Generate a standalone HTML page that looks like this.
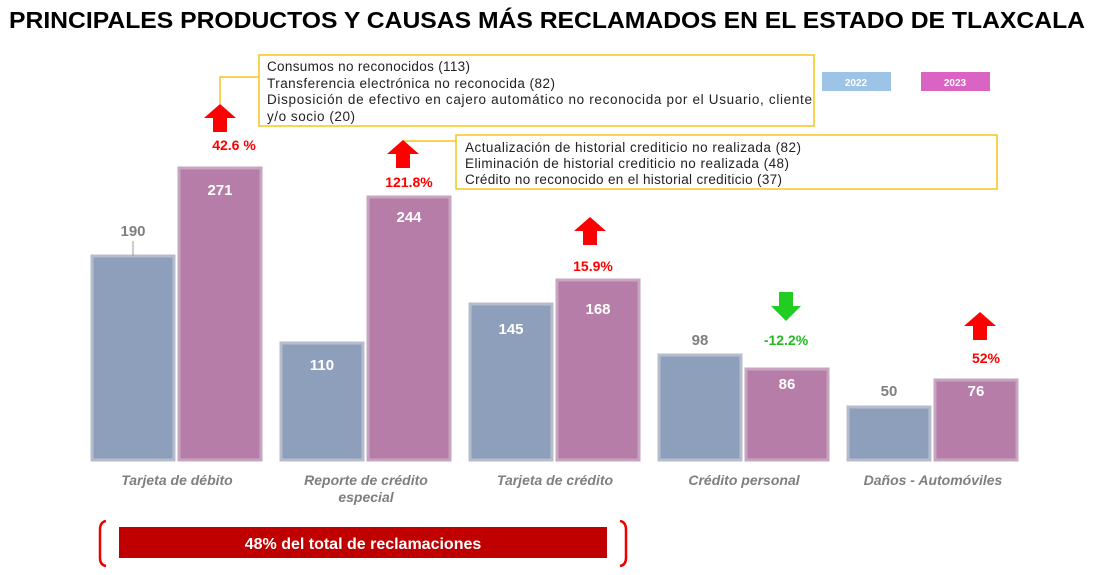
<!DOCTYPE html>
<html><head><meta charset="utf-8"><style>
body{margin:0;background:#fff;width:1093px;height:575px;overflow:hidden}
svg{display:block}
text{font-family:"Liberation Sans",sans-serif}
</style></head><body>
<svg width="1093" height="575" viewBox="0 0 1093 575">
<defs>
<g id="up"><polygon points="-16,12 0,-2 16,12 7,12 7,26 -7,26 -7,12" fill="#ff0000"/></g>
</defs>
<text x="9" y="28" font-size="23" font-weight="bold" fill="#000" textLength="1076" lengthAdjust="spacingAndGlyphs">PRINCIPALES PRODUCTOS Y CAUSAS MÁS RECLAMADOS EN EL ESTADO DE TLAXCALA</text>

<!-- callout 1 -->
<polyline points="259,77 220,77 220,104" fill="none" stroke="#f5c518" stroke-width="1.5"/>
<rect x="259" y="55" width="555" height="71" fill="#fff" stroke="#f5c518" stroke-width="1.5"/>
<g font-size="13.5" fill="#222">
<text x="267" y="71" textLength="203">Consumos no reconocidos (113)</text>
<text x="267" y="88" textLength="288">Transferencia electrónica no reconocida (82)</text>
<text x="267" y="104" textLength="545">Disposición de efectivo en cajero automático no reconocida por el Usuario, cliente</text>
<text x="267" y="121" textLength="88">y/o socio (20)</text>
</g>
<!-- callout 2 -->
<polyline points="456,141 403,141 403,144" fill="none" stroke="#f5c518" stroke-width="1.5"/>
<rect x="456" y="135" width="541" height="54" fill="#fff" stroke="#f5c518" stroke-width="1.5"/>
<g font-size="13.5" fill="#222">
<text x="465" y="152" textLength="336">Actualización de historial crediticio no realizada (82)</text>
<text x="465" y="168" textLength="324">Eliminación de historial crediticio no realizada (48)</text>
<text x="465" y="184" textLength="317">Crédito no reconocido en el historial crediticio (37)</text>
</g>
<!-- legend -->
<rect x="822" y="72" width="69" height="19" fill="#9dc3e6"/>
<text x="856" y="86" text-anchor="middle" font-size="10" font-weight="bold" fill="#fff">2022</text>
<rect x="921" y="72" width="69" height="19" fill="#d964c3"/>
<text x="955" y="86" text-anchor="middle" font-size="10" font-weight="bold" fill="#fff">2023</text>

<g fill="#8e9fbc" stroke="#b5bccb" stroke-width="3">
<rect x="92" y="256" width="82" height="204"/>
<rect x="281" y="343" width="82" height="117"/>
<rect x="470" y="304" width="82" height="156"/>
<rect x="659" y="355" width="82" height="105"/>
<rect x="848" y="407" width="82" height="53"/>
</g>
<g fill="#b67da8" stroke="#c7a4c0" stroke-width="3">
<rect x="179" y="168" width="82" height="292"/>
<rect x="368" y="197" width="82" height="263"/>
<rect x="557" y="280" width="82" height="180"/>
<rect x="746" y="369" width="82" height="91"/>
<rect x="935" y="380" width="82" height="80"/>
</g>
<line x1="133" y1="241" x2="133" y2="256" stroke="#999" stroke-width="1"/>
<g font-size="15" font-weight="bold" text-anchor="middle">
<text x="133" y="236" fill="#7f7f7f">190</text>
<text x="220" y="195" fill="#fff">271</text>
<text x="322" y="370" fill="#fff">110</text>
<text x="409" y="222" fill="#fff">244</text>
<text x="511" y="334" fill="#fff">145</text>
<text x="598" y="314" fill="#fff">168</text>
<text x="700" y="345" fill="#7f7f7f">98</text>
<text x="787" y="389" fill="#fff">86</text>
<text x="889" y="396" fill="#7f7f7f">50</text>
<text x="976" y="396" fill="#fff">76</text>
</g>
<use href="#up" x="220" y="106"/>
<use href="#up" x="403" y="142"/>
<use href="#up" x="590" y="219"/>
<use href="#up" x="980" y="314"/>
<polygon points="771,306 801,306 786,321" fill="#22cc22"/>
<rect x="779" y="292" width="14" height="15" fill="#22cc22"/>
<g font-size="14" font-weight="bold" text-anchor="middle">
<text x="234" y="150" fill="#ff0000">42.6 %</text>
<text x="409" y="187" fill="#ff0000">121.8%</text>
<text x="593" y="271" fill="#ff0000">15.9%</text>
<text x="786" y="345" fill="#22bb22">-12.2%</text>
<text x="986" y="363" fill="#ff0000">52%</text>
</g>
<g font-size="14" font-weight="bold" font-style="italic" fill="#7f7f7f" text-anchor="middle">
<text x="177" y="485">Tarjeta de débito</text>
<text x="366" y="485">Reporte de crédito</text>
<text x="366" y="502">especial</text>
<text x="555" y="485">Tarjeta de crédito</text>
<text x="744" y="485">Crédito personal</text>
<text x="933" y="485">Daños - Automóviles</text>
</g>
<path d="M106,521 Q100,522 100,530 L100,558 Q100,565 106,566" fill="none" stroke="#e00" stroke-width="2.5"/>
<path d="M620,521 Q626,522 626,530 L626,558 Q626,565 620,566" fill="none" stroke="#e00" stroke-width="2.5"/>
<rect x="119" y="527" width="488" height="31" fill="#c00000"/>
<text x="363" y="549" text-anchor="middle" font-size="16" font-weight="bold" fill="#fff">48% del total de reclamaciones</text>
</svg>
</body></html>
